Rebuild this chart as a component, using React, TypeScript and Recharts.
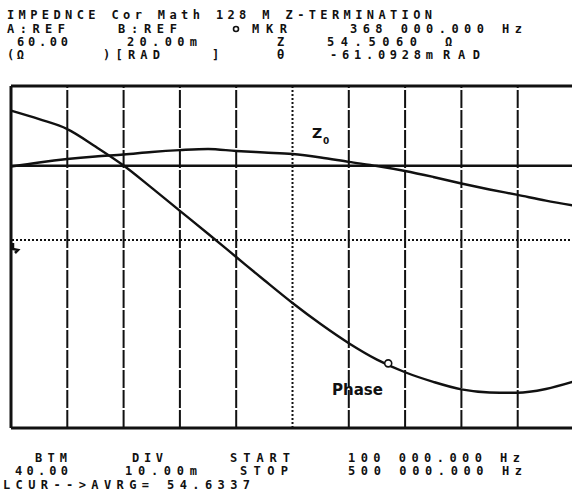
import {
  ComposedChart,
  Line,
  ReferenceDot,
  ReferenceLine,
  XAxis,
  YAxis
} from 'recharts';

// sweep 100 kHz .. 500 kHz, 20 kHz steps
const freqs = [
  100000, 120000, 140000, 160000, 180000, 200000, 220000, 240000, 260000, 280000, 300000,
  320000, 340000, 360000, 380000, 400000, 420000, 440000, 460000, 480000, 500000
];
// trace A: |Z| in ohms
const zValues = [
  54.59, 54.83, 55.03, 55.18, 55.29, 55.44, 55.55, 55.62, 55.5, 55.41, 55.32,
  55.12, 54.86, 54.62, 54.33, 53.98, 53.6, 53.25, 52.93, 52.6, 52.31
];
// trace B: phase in mrad
const phaseValues = [
  12.8, 10.3, 7.4, 2.3, -3.25, -9.8, -16.5, -23.2, -30.0, -36.8, -43.45,
  -49.6, -55.2, -60.0, -63.7, -66.5, -68.7, -69.6, -69.7, -68.6, -66.4
];
const gridFreqs = [140000, 180000, 220000, 260000, 340000, 380000, 420000, 460000];
const centerFreq = 300000;
const avgZ = 54.6337;
const markerFreq = 368000;
const markerPhase = -61.0928;
const refPhase = -25;
const aDomain: [number, number] = [39.3, 59.3];
const bDomain: [number, number] = [-80, 20];

const rows = freqs.map((f, i) => ({ f, z: zValues[i], phase: phaseValues[i] }));

type Seg = { t: string; x: number; w?: number };
const headerRows: { y: number; segs: Seg[] }[] = [
  { y: 19, segs: [{ t: 'IMPEDNCE Cor Math 128 M Z-TERMINATION', x: 7, w: 425 }] },
  {
    y: 33,
    segs: [
      { t: 'A:REF', x: 7, w: 58 },
      { t: 'B:REF', x: 118, w: 59 },
      { t: 'MKR', x: 252, w: 35 },
      { t: '368 000.000 Hz', x: 350, w: 172 }
    ]
  },
  {
    y: 46,
    segs: [
      { t: '60.00', x: 17, w: 51 },
      { t: '20.00m', x: 127, w: 70 },
      { t: 'Z', x: 277 },
      { t: '54.5060', x: 327, w: 90 },
      { t: 'Ω', x: 445 }
    ]
  },
  {
    y: 59,
    segs: [
      { t: '(Ω', x: 7, w: 17 },
      { t: ')[RAD', x: 103, w: 57 },
      { t: ']', x: 212 },
      { t: 'θ', x: 277 },
      { t: '-61.0928m', x: 330, w: 103 },
      { t: 'RAD', x: 443, w: 37 }
    ]
  },
  {
    y: 462,
    segs: [
      { t: 'BTM', x: 35, w: 32 },
      { t: 'DIV', x: 132, w: 31 },
      { t: 'START', x: 230, w: 60 },
      { t: '100 000.000 Hz', x: 348, w: 172 }
    ]
  },
  {
    y: 475,
    segs: [
      { t: '40.00', x: 15, w: 53 },
      { t: '10.00m', x: 125, w: 72 },
      { t: 'STOP', x: 240, w: 48 },
      { t: '500 000.000 Hz', x: 348, w: 174 }
    ]
  },
  { y: 489, segs: [{ t: 'LCUR-->AVRG= 54.6337', x: 3, w: 247 }] }
];

const ink = '#111';
const mono = '"DejaVu Sans Mono", monospace';
const monoSize = 12;

// spread a fixed-pitch string over the width it takes on the screen print
function spacing(s: Seg) {
  const n = s.t.length;
  if (!s.w || n < 2) return 0;
  return (s.w - n * monoSize * 0.602) / (n - 1);
}

function Overlay() {
  return (
    <svg
      width={572}
      height={500}
      style={{ position: 'absolute', left: 0, top: 0, pointerEvents: 'none' }}
    >
      {headerRows.map((r) =>
        r.segs.map((s) => (
          <text
            key={r.y + s.t}
            x={s.x}
            y={r.y}
            fontFamily={mono}
            fontWeight="bold"
            fontSize={monoSize}
            fill={ink}
            style={{ letterSpacing: spacing(s) }}
          >
            {s.t}
          </text>
        ))
      )}
      <circle cx={236} cy={29} r={2.5} fill="#fff" stroke={ink} strokeWidth={1.6} />
      <text x={312} y={138} fontFamily="DejaVu Sans" fontWeight="bold" fontSize={14} fill={ink}>
        Z
      </text>
      <text x={323} y={144} fontFamily="DejaVu Sans" fontWeight="bold" fontSize={9} fill={ink}>
        0
      </text>
      <text
        x={332}
        y={395}
        fontFamily="DejaVu Sans"
        fontWeight="bold"
        fontSize={16}
        fill={ink}
        textLength={51}
        lengthAdjust="spacingAndGlyphs"
      >
        Phase
      </text>
      <path d="M13,243 L13,249 L18,250 L15,253" fill="none" stroke={ink} strokeWidth={2.5} />
    </svg>
  );
}

export default function App() {
  return (
    <div
      style={{
        position: 'absolute',
        left: 0,
        top: 0,
        width: 572,
        height: 500,
        overflow: 'hidden',
        background: '#fff'
      }}
    >
      <ComposedChart
        width={580}
        height={500}
        data={rows}
        margin={{ top: 86, right: 6, bottom: 72, left: 11 }}
      >
        <XAxis dataKey="f" type="number" domain={[100000, 500000]} hide />
        <YAxis yAxisId="A" domain={aDomain} hide allowDataOverflow />
        <YAxis yAxisId="B" orientation="right" domain={bDomain} hide allowDataOverflow />

        {gridFreqs.map((f) => (
          <ReferenceLine
            key={f}
            x={f}
            yAxisId="A"
            stroke={ink}
            strokeWidth={2}
            strokeDasharray="18 2"
          />
        ))}
        <ReferenceLine x={centerFreq} yAxisId="A" stroke={ink} strokeWidth={2} strokeDasharray="2 2" />
        <ReferenceLine yAxisId="B" y={refPhase} stroke={ink} strokeWidth={2} strokeDasharray="2 2" />

        <ReferenceLine x={100000} yAxisId="A" stroke={ink} strokeWidth={3} />
        <ReferenceLine y={aDomain[1]} yAxisId="A" stroke={ink} strokeWidth={3} />
        <ReferenceLine y={aDomain[0]} yAxisId="A" stroke={ink} strokeWidth={3} />
        <ReferenceLine y={avgZ} yAxisId="A" stroke={ink} strokeWidth={2.5} />

        <Line
          yAxisId="A"
          dataKey="z"
          type="monotone"
          stroke={ink}
          strokeWidth={2.4}
          dot={false}
          isAnimationActive={false}
        />
        <Line
          yAxisId="B"
          dataKey="phase"
          type="monotone"
          stroke={ink}
          strokeWidth={2.4}
          dot={false}
          isAnimationActive={false}
        />
        <ReferenceDot
          yAxisId="B"
          x={markerFreq}
          y={markerPhase}
          r={3.5}
          fill="#fff"
          stroke={ink}
          strokeWidth={1.6}
        />
      </ComposedChart>
      <Overlay />
    </div>
  );
}
